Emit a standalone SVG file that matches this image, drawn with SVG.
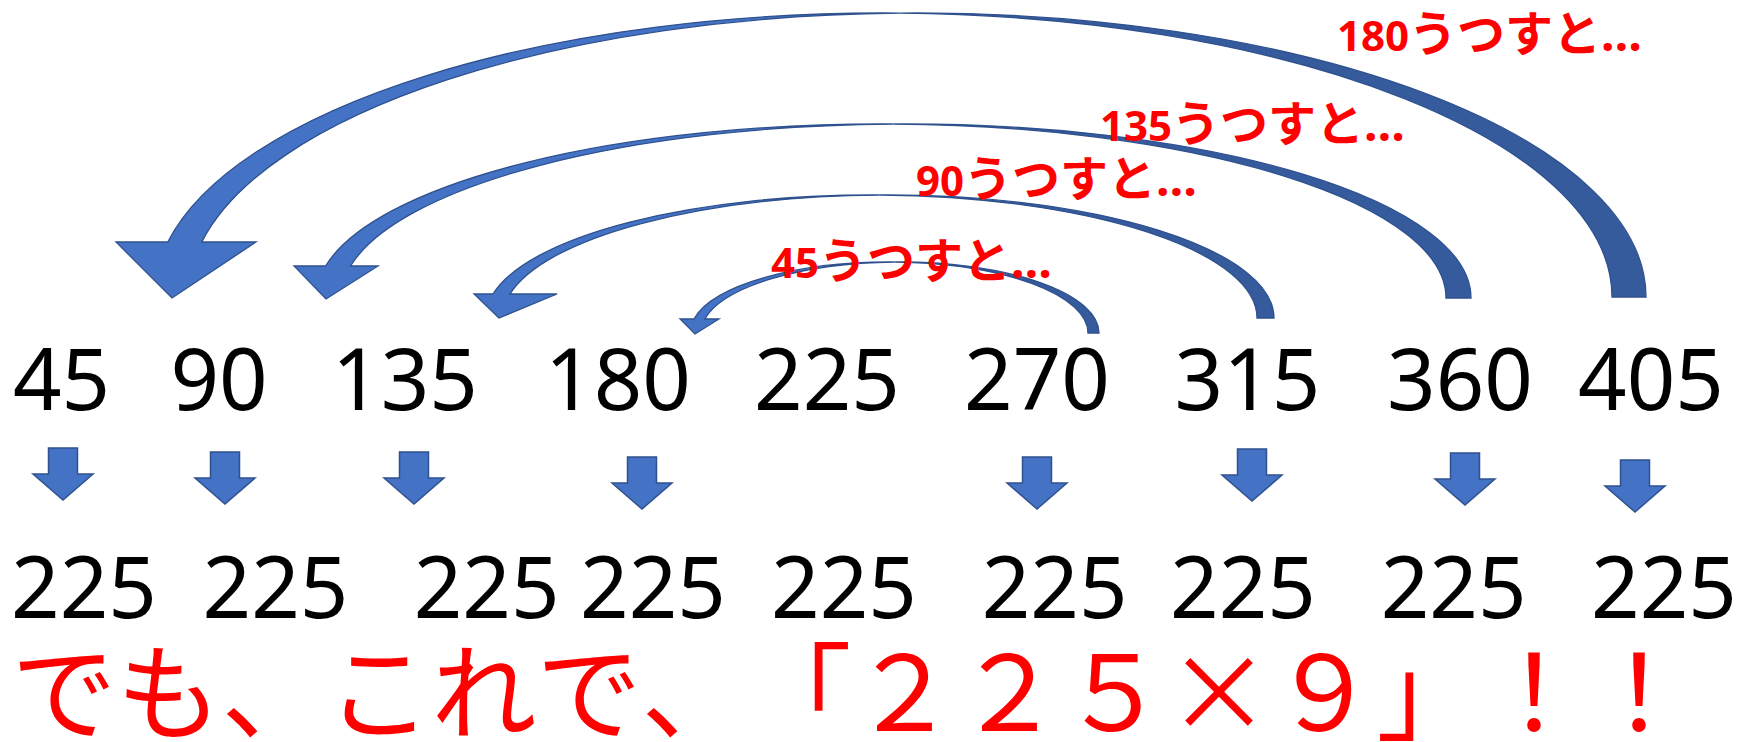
<svg xmlns="http://www.w3.org/2000/svg" width="1738" height="742" viewBox="0 0 1738 742">
<defs>
<style>
.num{font-family:"Noto Sans","Open Sans",sans-serif;font-size:85px;fill:#000;text-anchor:middle}
.lbl{font-family:"Noto Sans","Noto Sans CJK JP",sans-serif;font-size:48px;font-weight:700;fill:#FF0000}
.lbl .d{font-size:42px}
.msg{font-family:"Noto Sans CJK JP",sans-serif;font-size:105px;fill:#FF0000}
.front{fill:#4472C4;stroke:#2F528F;stroke-width:1.3;stroke-linejoin:miter}
.back{fill:#365B9D;stroke:#2F528F;stroke-width:1.3}
.dn{fill:#4472C4;stroke:#2F528F;stroke-width:1.5}
</style>
<path id="down" d="M-14.5 0H14.5V26H30L0 52L-30 26H-14.5Z"/>
</defs>
<rect width="1738" height="742" fill="#FFFFFF"/>
<g id="connectors">
<g id="arc-180">
<path class="back" d="M1646,297 A729,284 0 0 0 900,13.1 A729,284 0 0 1 1612,297 Z"/>
<path class="front" d="M900,13.1 A729,284 0 0 0 167.8,242 L116,242 L172,298 L256,242 L201.8,242 A729,284 0 0 1 900,13.1 Z"/>
</g>
<g id="arc-135">
<path class="back" d="M1471,298 A565,174 0 0 0 893.5,124 A565,174 0 0 1 1446,298 Z"/>
<path class="front" d="M893.5,124 A565,174 0 0 0 325.6,266 L294,266 L326,299 L378,266 L350.6,266 A565,174 0 0 1 893.5,124 Z"/>
</g>
<g id="arc-90">
<path class="back" d="M1274,318 A385.7,123 0 0 0 879.8,195 A385.7,123 0 0 1 1257,318 Z"/>
<path class="front" d="M879.8,195 A385.7,123 0 0 0 493,294 L474,294 L499,318 L557,294 L510,294 A385.7,123 0 0 1 879.8,195 Z"/>
</g>
<g id="arc-45">
<path class="back" d="M1099,333 A199,71 0 0 0 894.5,262 A199,71 0 0 1 1088,333 Z"/>
<path class="front" d="M894.5,262 A199,71 0 0 0 693.9,319 L680,319 L695,334 L719,319 L704.9,319 A199,71 0 0 1 894.5,262 Z"/>
</g>
<use href="#down" class="dn" transform="translate(63,448)"/>
<use href="#down" class="dn" transform="translate(225,452)"/>
<use href="#down" class="dn" transform="translate(414,452)"/>
<use href="#down" class="dn" transform="translate(642,457)"/>
<use href="#down" class="dn" transform="translate(1037,457)"/>
<use href="#down" class="dn" transform="translate(1252,449)"/>
<use href="#down" class="dn" transform="translate(1465,453)"/>
<use href="#down" class="dn" transform="translate(1635,460)"/>
</g>
<g id="labels">
<g id="label-180"><text class="lbl" x="1337" y="51"><tspan class="d">180</tspan>うつすと…</text></g>
<g id="label-135"><text class="lbl" x="1100" y="141"><tspan class="d">135</tspan>うつすと…</text></g>
<g id="label-90"><text class="lbl" x="916" y="196"><tspan class="d">90</tspan>うつすと…</text></g>
<g id="label-45"><text class="lbl" x="771" y="278"><tspan class="d">45</tspan>うつすと…</text></g>
</g>
<g id="row1">
<g id="n45"><text class="num" x="61.5" y="410">45</text></g>
<g id="n90"><text class="num" x="219" y="410">90</text></g>
<g id="n135"><text class="num" x="405" y="410">135</text></g>
<g id="n180"><text class="num" x="618" y="410">180</text></g>
<g id="n225"><text class="num" x="827" y="410">225</text></g>
<g id="n270"><text class="num" x="1037" y="410">270</text></g>
<g id="n315"><text class="num" x="1247.5" y="410">315</text></g>
<g id="n360"><text class="num" x="1460" y="410">360</text></g>
<g id="n405"><text class="num" x="1651" y="410">405</text></g>
</g>
<g id="row2">
<g id="r1"><text class="num" x="84" y="618">225</text></g>
<g id="r2"><text class="num" x="275.5" y="618">225</text></g>
<g id="r3"><text class="num" x="486.6" y="618">225</text></g>
<g id="r4"><text class="num" x="653" y="618">225</text></g>
<g id="r5"><text class="num" x="844" y="618">225</text></g>
<g id="r6"><text class="num" x="1054.6" y="618">225</text></g>
<g id="r7"><text class="num" x="1243" y="618">225</text></g>
<g id="r8"><text class="num" x="1453.7" y="618">225</text></g>
<g id="r9"><text class="num" x="1664" y="618">225</text></g>
</g>
<g id="message">
<text class="msg" y="731"><tspan x="11.5 116.5 221.5 326.5 431.5 536.5 641.5 746.5 851.5 956.5 1061.5">でも、これで、「２２５</tspan><tspan x="1219" text-anchor="middle">×</tspan><tspan x="1271.5 1376.5 1481.5 1586.5">９」！！</tspan></text>
</g>
</svg>
